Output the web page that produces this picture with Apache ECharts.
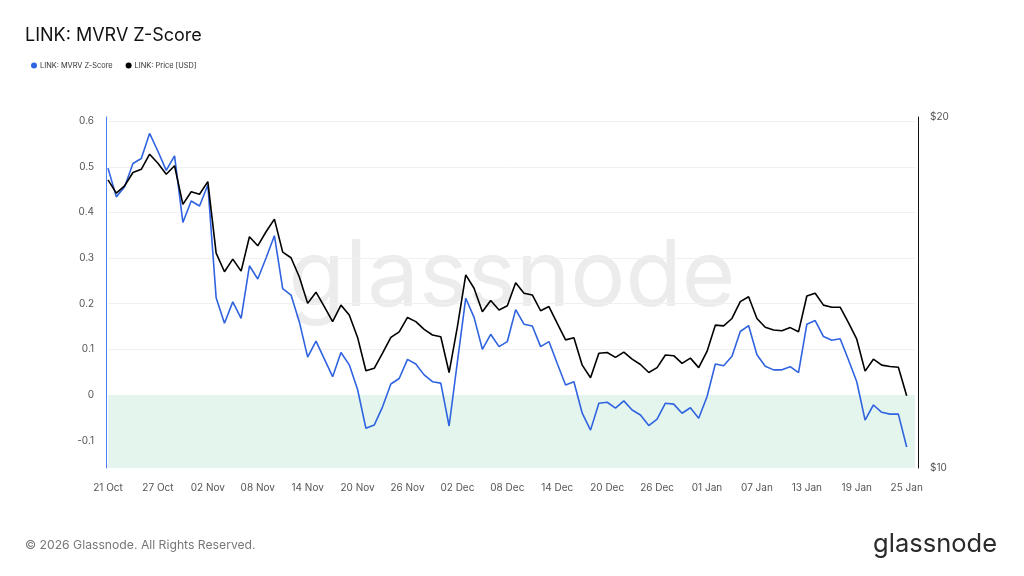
<!DOCTYPE html>
<html>
<head>
<meta charset="utf-8">
<title>LINK: MVRV Z-Score</title>
<script src="https://cdn.jsdelivr.net/npm/echarts@6/dist/echarts.min.js"></script>
<style>
  html, body { margin: 0; padding: 0; background: #fff; }
  #chart { width: 1024px; height: 576px; }
</style>
</head>
<body>
<div id="chart"></div>
<script>
// daily values, 21 Oct 2025 .. 25 Jan 2026
var startDate = '2025-10-21';
var dayCount = 98; // one spare day at the end so the last point sits a bit inside the grid

var mvrvZ = [
  0.497, 0.434, 0.456, 0.507, 0.518, 0.573, 0.534, 0.492, 0.524, 0.378,
  0.425, 0.414, 0.460, 0.213, 0.157, 0.204, 0.168, 0.283, 0.254, 0.300,
  0.349, 0.233, 0.219, 0.160, 0.083, 0.118, 0.079, 0.040, 0.093, 0.066,
  0.012, -0.073, -0.066, -0.026, 0.024, 0.036, 0.078, 0.068, 0.044, 0.029,
  0.026, -0.068, 0.073, 0.212, 0.170, 0.100, 0.133, 0.106, 0.117, 0.187,
  0.155, 0.151, 0.106, 0.117, 0.069, 0.022, 0.029, -0.040, -0.077, -0.018,
  -0.016, -0.029, -0.013, -0.033, -0.044, -0.067, -0.053, -0.018, -0.020, -0.040,
  -0.028, -0.051, -0.004, 0.068, 0.064, 0.085, 0.139, 0.152, 0.088, 0.063,
  0.055, 0.055, 0.062, 0.049, 0.155, 0.163, 0.128, 0.120, 0.123, 0.077,
  0.029, -0.055, -0.022, -0.038, -0.042, -0.042, -0.114
];

var priceUsd = [
  18.21, 17.83, 18.04, 18.42, 18.51, 18.94, 18.68, 18.37, 18.61, 17.51,
  17.87, 17.80, 18.16, 16.12, 15.59, 15.95, 15.61, 16.59, 16.33, 16.73,
  17.09, 16.15, 15.99, 15.44, 14.69, 15.01, 14.60, 14.17, 14.64, 14.36,
  13.72, 12.77, 12.84, 13.27, 13.72, 13.88, 14.29, 14.17, 13.95, 13.79,
  13.74, 12.72, 14.03, 15.50, 15.12, 14.45, 14.77, 14.50, 14.62, 15.28,
  14.98, 14.93, 14.48, 14.60, 14.12, 13.65, 13.71, 12.93, 12.57, 13.27,
  13.29, 13.15, 13.30, 13.10, 12.95, 12.72, 12.86, 13.22, 13.20, 12.98,
  13.13, 12.86, 13.32, 14.07, 14.05, 14.26, 14.74, 14.88, 14.26, 14.01,
  13.93, 13.91, 14.00, 13.88, 14.90, 14.98, 14.64, 14.58, 14.58, 14.14,
  13.67, 12.76, 13.10, 12.93, 12.89, 12.87, 12.06
];

var zTicks = [-0.1, 0, 0.1, 0.2, 0.3, 0.4, 0.5, 0.6];
var priceTicks = [10, 20];

var monthNames = ['Jan','Feb','Mar','Apr','May','Jun','Jul','Aug','Sep','Oct','Nov','Dec'];
var dates = [];
var d0 = new Date(startDate + 'T00:00:00Z');
for (var i = 0; i < dayCount; i++) {
  var d = new Date(d0.getTime() + i * 86400000);
  var dd = d.getUTCDate();
  dates.push((dd < 10 ? '0' + dd : '' + dd) + ' ' + monthNames[d.getUTCMonth()]);
}

var FONT = 'Inter, "Noto Sans", sans-serif';

var myChart = echarts.init(document.getElementById('chart'));
var option = {
  backgroundColor: '#fff',
  animation: false,
  textStyle: { fontFamily: FONT },
  title: {
    text: 'LINK: MVRV Z-Score',
    left: 20,
    top: 22,
    textStyle: { fontSize: 18, fontWeight: 'normal', color: '#111', fontFamily: FONT }
  },
  legend: {
    left: 26,
    top: 57,
    icon: 'circle',
    itemWidth: 6,
    itemHeight: 6,
    itemGap: 13,
    itemStyle: { borderWidth: 0 },
    textStyle: { fontSize: 7.4, color: '#333', fontFamily: FONT, padding: [0, 0, 0, -2] },
    data: ['LINK: MVRV Z-Score', 'LINK: Price [USD]']
  },
  graphic: [
    {
      type: 'text',
      left: 'center',
      top: 232,
      z: 0,
      silent: true,
      style: { text: 'glassnode', fontSize: 92, fontFamily: FONT, fill: '#ececec' }
    },
    {
      type: 'text',
      left: 25,
      top: 539,
      style: { text: '\u00a9 2026 Glassnode. All Rights Reserved.', fontSize: 12.2, fontFamily: FONT, fill: '#777' }
    },
    {
      type: 'text',
      right: 27,
      top: 531,
      style: { text: 'glassnode', fontSize: 25.5, fontFamily: FONT, fill: '#2b2b2b' }
    }
  ],
  grid: {
    left: 108,
    right: 109,
    top: 117,
    bottom: 108
  },
  xAxis: {
    type: 'category',
    data: dates,
    boundaryGap: false,
    axisLine: { show: false },
    axisTick: {
      show: true,
      interval: 5,
      length: 9,
      lineStyle: { color: '#e6e6e6' }
    },
    axisLabel: {
      interval: 5,
      margin: 15,
      fontSize: 10,
      color: '#555'
    },
    splitLine: { show: false }
  },
  yAxis: [
    {
      type: 'value',
      position: 'left',
      min: -0.16,
      max: 0.609,
      offset: 2,
      axisLine: { show: true, lineStyle: { color: '#4d7ff0', width: 1 } },
      axisTick: { show: false, customValues: zTicks },
      axisLabel: {
        customValues: zTicks,
        margin: 12,
        fontSize: 10,
        color: '#555',
        formatter: function (v) { return String(Math.round(v * 10) / 10); }
      },
      splitLine: { show: true, lineStyle: { color: '#f0f0f0', width: 1 } }
    },
    {
      type: 'value',
      position: 'right',
      min: priceTicks[0],
      max: priceTicks[1],
      interval: 10,
      offset: 3,
      axisLine: { show: true, lineStyle: { color: '#111', width: 1 } },
      axisTick: { show: false },
      axisLabel: {
        margin: 12,
        fontSize: 10,
        color: '#555',
        formatter: '${value}'
      },
      splitLine: { show: false }
    }
  ],
  series: [
    {
      name: 'LINK: MVRV Z-Score',
      type: 'line',
      yAxisIndex: 0,
      data: mvrvZ,
      symbol: 'none',
      color: '#2f63e0',
      lineStyle: { width: 1.6, color: '#2f63e0' },
      markArea: {
        silent: true,
        itemStyle: { color: '#e4f5ee' },
        data: [[{ yAxis: -0.16 }, { yAxis: 0 }]]
      }
    },
    {
      name: 'LINK: Price [USD]',
      type: 'line',
      yAxisIndex: 1,
      data: priceUsd,
      symbol: 'none',
      color: '#000',
      lineStyle: { width: 1.6, color: '#000' }
    }
  ]
};
myChart.setOption(option);
</script>
</body>
</html>
